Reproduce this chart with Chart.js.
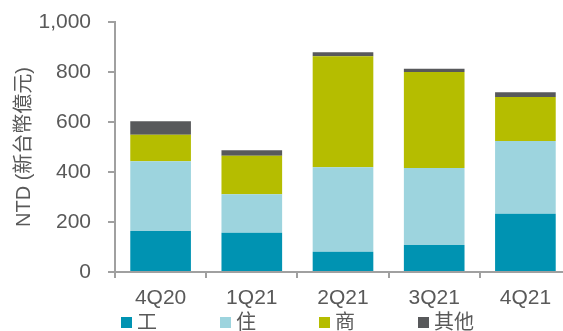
<!DOCTYPE html>
<html>
<head>
<meta charset="utf-8">
<script src="https://cdn.jsdelivr.net/npm/chart.js@4"></script>
<style>
  html, body { margin: 0; padding: 0; background: #fff; overflow: hidden; }
  #wrap { position: relative; width: 580px; height: 331px; }
  #legend {
    position: absolute; left: 121px; top: 312px; height: 20px;
    display: flex; font-family: "Liberation Sans", "Noto Sans CJK TC", sans-serif;
    font-size: 20px; color: #595959; line-height: 20px;
  }
  #legend .item { width: 99px; display: flex; align-items: center; }
  #legend .box { width: 11px; height: 11px; margin-right: 5px; }
</style>
</head>
<body>
<div id="wrap">
  <canvas id="chart" width="580" height="331"></canvas>
  <div id="legend"></div>
</div>
<script>
// Chart data
const quarters = ['4Q20', '1Q21', '2Q21', '3Q21', '4Q21'];
const seriesNames = ['工', '住', '商', '其他'];
const industrial = [164, 157, 81, 108, 233];
const residential = [279, 154, 338, 308, 291];
const commercial = [106, 154, 444, 384, 176];
const others = [54, 22, 16, 13, 19];
const yTicks = [0, 200, 400, 600, 800, 1000];

const colors = ['#0093B2', '#9DD4DE', '#B5BD00', '#58595B'];
const seriesData = [industrial, residential, commercial, others];

const fontFamily = "'Liberation Sans', Arial, 'Noto Sans CJK TC', sans-serif";
const axisColor = '#A0A0A0';
const textColor = '#595959';

Chart.defaults.font.family = fontFamily;
Chart.defaults.color = textColor;

const ctx = document.getElementById('chart').getContext('2d');
const chart = new Chart(ctx, {
    type: 'bar',
    data: {
        labels: quarters,
        datasets: seriesNames.map((name, i) => ({
            label: name,
            data: seriesData[i],
            backgroundColor: colors[i],
            borderWidth: 0,
            barPercentage: 0.665,
            categoryPercentage: 1
        }))
    },
    options: {
        responsive: false,
        animation: false,
        devicePixelRatio: 1,
        layout: {
            padding: { top: 22, right: 9, bottom: 0, left: 0 }
        },
        plugins: {
            legend: { display: false },
            tooltip: { enabled: false }
        },
        scales: {
            x: {
                stacked: true,
                // fixed axis band so the plot bottom sits at y=272
                afterFit: s => { s.height = 59; },
                grid: {
                    drawOnChartArea: false,
                    drawTicks: true,
                    tickLength: 6,
                    color: axisColor,
                    lineWidth: 2,
                    offset: true
                },
                border: { display: true, color: axisColor, width: 2 },
                ticks: {
                    font: { size: 21 },
                    color: textColor,
                    padding: 8,
                    maxRotation: 0
                }
            },
            y: {
                stacked: true,
                min: 0,
                max: 1000,
                afterBuildTicks: axis => {
                    axis.ticks = yTicks.map(v => ({ value: v }));
                },
                afterFit: s => {
                    s.width = 115;
                    s.paddingTop = 0;
                },
                grid: {
                    drawOnChartArea: false,
                    drawTicks: true,
                    tickLength: 7,
                    color: axisColor,
                    lineWidth: 2
                },
                border: { display: true, color: axisColor, width: 2 },
                ticks: {
                    font: { size: 21 },
                    color: textColor,
                    padding: 17,
                    callback: v => v.toLocaleString('en-US')
                },
                title: {
                    display: true,
                    text: 'NTD (新台幣億元)',
                    font: { size: 20 },
                    color: textColor,
                    padding: { top: 12, bottom: 0 }
                }
            }
        }
    }
});

// HTML legend
const legendEl = document.getElementById('legend');
seriesNames.forEach((name, i) => {
    const item = document.createElement('div');
    item.className = 'item';
    item.innerHTML = `<span class="box" style="background:${colors[i]}"></span><span>${name}</span>`;
    legendEl.appendChild(item);
});
</script>
</body>
</html>
